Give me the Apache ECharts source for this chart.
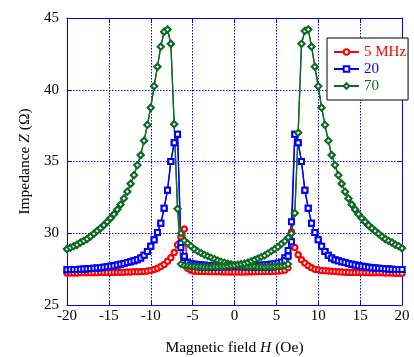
<!DOCTYPE html>
<html>
<head>
<meta charset="utf-8">
<script src="https://cdn.jsdelivr.net/npm/echarts@6/dist/echarts.min.js"></script>
<style>html,body{margin:0;padding:0;background:#fff}#c{width:414px;height:357px}</style>
</head>
<body>
<div id="c"></div>
<script>
// Magnetic field grid (Oe)
const H = [-20,-19.6,-19.2,-18.8,-18.4,-18,-17.6,-17.2,-16.8,-16.4,
  -16,-15.6,-15.2,-14.8,-14.4,-14,-13.6,-13.2,-12.8,-12.4,
  -12,-11.6,-11.2,-10.8,-10.4,-10,-9.6,-9.2,-8.8,-8.4,
  -8,-7.6,-7.2,-6.8,-6.4,-6,-5.6,-5.2,-4.8,-4.4,
  -4,-3.6,-3.2,-2.8,-2.4,-2,-1.6,-1.2,-0.8,-0.4,
  0,0.4,0.8,1.2,1.6,2,2.4,2.8,3.2,3.6,
  4,4.4,4.8,5.2,5.6,6,6.4,6.8,7.2,7.6,
  8,8.4,8.8,9.2,9.6,10,10.4,10.8,11.2,11.6,
  12,12.4,12.8,13.2,13.6,14,14.4,14.8,15.2,15.6,
  16,16.4,16.8,17.2,17.6,18,18.4,18.8,19.2,19.6,20];

// 5 MHz, sweep up / sweep down (Ohm)
const red_up = [27.23,27.23,27.23,27.23,27.24,27.24,27.24,27.25,27.25,27.25,
  27.26,27.26,27.27,27.27,27.28,27.28,27.29,27.29,27.3,27.3,
  27.31,27.31,27.32,27.34,27.37,27.41,27.47,27.56,27.68,27.82,
  28.05,28.3,28.65,29.2,29.75,30.3,27.55,27.4,27.36,27.34,
  27.33,27.32,27.32,27.31,27.31,27.31,27.3,27.3,27.3,27.3,
  27.3,27.3,27.3,27.3,27.3,27.3,27.31,27.31,27.32,27.32,
  27.33,27.35,27.38,27.42,27.5,27.75,28.4,30.1,29.0,28.5,
  28.15,27.92,27.74,27.6,27.5,27.45,27.41,27.39,27.37,27.35,
  27.33,27.31,27.3,27.29,27.28,27.27,27.27,27.26,27.26,27.25,
  27.25,27.25,27.24,27.24,27.24,27.23,27.23,27.23,27.22,27.22,27.22];
const red_down = [27.23,27.23,27.23,27.23,27.24,27.24,27.24,27.25,27.25,27.25,
  27.26,27.26,27.27,27.27,27.28,27.28,27.29,27.29,27.3,27.3,
  27.31,27.31,27.32,27.34,27.37,27.41,27.47,27.56,27.68,27.82,
  28.05,28.3,28.65,29.2,29.75,30.3,27.75,27.45,27.37,27.35,
  27.34,27.33,27.33,27.32,27.32,27.31,27.31,27.31,27.3,27.3,
  27.3,27.3,27.3,27.3,27.31,27.31,27.31,27.32,27.32,27.33,
  27.33,27.34,27.34,27.35,27.37,27.42,27.6,30.1,29.0,28.5,
  28.15,27.92,27.74,27.6,27.5,27.45,27.41,27.39,27.37,27.35,
  27.33,27.31,27.3,27.29,27.28,27.27,27.27,27.26,27.26,27.25,
  27.25,27.25,27.24,27.24,27.24,27.23,27.23,27.23,27.22,27.22,27.22];

// 20 MHz
const blue_up = [27.46,27.47,27.48,27.48,27.5,27.51,27.52,27.54,27.56,27.58,
  27.6,27.63,27.66,27.7,27.74,27.79,27.84,27.9,27.96,28.02,
  28.08,28.15,28.28,28.47,28.72,29.1,29.55,30.05,30.7,31.75,
  33.0,35.0,36.3,36.9,29.3,28.3,28.0,27.9,27.85,27.82,
  27.8,27.78,27.76,27.75,27.74,27.73,27.72,27.71,27.7,27.7,
  27.7,27.68,27.67,27.66,27.65,27.64,27.63,27.62,27.62,27.62,
  27.63,27.65,27.7,27.78,27.95,28.3,28.8,30.8,36.9,36.3,
  35.0,33.0,31.75,30.7,30.05,29.55,29.1,28.72,28.47,28.28,
  28.15,28.08,28.02,27.96,27.9,27.84,27.79,27.74,27.7,27.66,
  27.63,27.6,27.58,27.56,27.54,27.52,27.51,27.5,27.48,27.48,27.47];
const blue_down = [27.46,27.47,27.48,27.48,27.5,27.51,27.52,27.54,27.56,27.58,
  27.6,27.63,27.66,27.7,27.74,27.79,27.84,27.9,27.96,28.02,
  28.08,28.15,28.28,28.47,28.72,29.1,29.55,30.05,30.7,31.75,
  33.0,35.0,36.3,36.9,29.0,28.4,27.95,27.78,27.7,27.66,
  27.64,27.63,27.62,27.62,27.63,27.64,27.65,27.66,27.67,27.68,
  27.7,27.7,27.71,27.72,27.73,27.74,27.75,27.76,27.78,27.8,
  27.82,27.85,27.88,27.92,28.0,28.1,28.4,29.4,36.9,36.3,
  35.0,33.0,31.75,30.7,30.05,29.55,29.1,28.72,28.47,28.28,
  28.15,28.08,28.02,27.96,27.9,27.84,27.79,27.74,27.7,27.66,
  27.63,27.6,27.58,27.56,27.54,27.52,27.51,27.5,27.48,27.48,27.47];

// 70 MHz
const green_up = [28.9,29.0,29.1,29.2,29.35,29.47,29.6,29.77,29.96,30.16,
  30.35,30.56,30.8,31.05,31.33,31.65,32.0,32.43,32.9,33.45,
  34.05,34.75,35.45,36.45,37.55,38.75,40.25,41.6,43.0,44.05,
  44.2,43.2,37.6,31.7,30.0,29.5,29.3,29.1,28.9,28.75,
  28.62,28.5,28.4,28.3,28.2,28.1,28.02,27.95,27.9,27.85,
  27.8,27.75,27.72,27.7,27.68,27.67,27.66,27.65,27.65,27.65,
  27.66,27.67,27.68,27.7,27.72,27.75,27.85,30.0,31.4,37.0,
  43.2,44.1,44.2,43.0,41.6,40.25,38.75,37.55,36.45,35.45,
  34.75,34.05,33.45,32.9,32.43,32.0,31.65,31.33,31.05,30.8,
  30.56,30.35,30.16,29.96,29.77,29.6,29.47,29.35,29.2,29.1,28.95];
const green_down = [28.9,29.0,29.1,29.2,29.35,29.47,29.6,29.77,29.96,30.16,
  30.35,30.56,30.8,31.05,31.33,31.65,32.0,32.43,32.9,33.45,
  34.05,34.75,35.45,36.45,37.55,38.75,40.25,41.6,43.0,44.05,
  44.2,43.2,37.6,31.7,27.85,27.75,27.72,27.7,27.68,27.67,
  27.66,27.65,27.65,27.65,27.66,27.67,27.68,27.7,27.72,27.75,
  27.78,27.82,27.86,27.9,27.97,28.05,28.15,28.25,28.35,28.45,
  28.6,28.75,28.9,29.05,29.25,29.45,29.7,30.0,31.4,37.0,
  43.2,44.1,44.2,43.0,41.6,40.25,38.75,37.55,36.45,35.45,
  34.75,34.05,33.45,32.9,32.43,32.0,31.65,31.33,31.05,30.8,
  30.56,30.35,30.16,29.96,29.77,29.6,29.47,29.35,29.2,29.1,28.95];

const names = ['5 MHz', '20', '70'];
const colors = ['#ff0000', '#0000ff', '#0d6b22'];
const FONT = 'Liberation Serif';
const AXIS = '#0000ff';

function pairs(arr) { return H.map((h, i) => [h, arr[i]]); }

function mk(name, arr, color, symbol, size, lw) {
  return {
    type: 'line', name: name, data: pairs(arr),
    xAxisIndex: 0, yAxisIndex: 0,
    symbol: symbol, symbolSize: size, showSymbol: true,
    lineStyle: { color: color, width: lw },
    itemStyle: { color: color, borderColor: color, borderWidth: 1 },
    emphasis: { disabled: true }
  };
}

const chart = echarts.init(document.getElementById('c'), null, { renderer: 'canvas' });
const gridLine = { show: true, lineStyle: { color: AXIS, width: 1, type: [1.5, 1.5] } };
chart.setOption({
  animation: false,
  backgroundColor: '#fff',
  grid: { left: 67, top: 18, width: 335, height: 287, containLabel: false, outerBoundsMode: 'none' },
  legend: {
    left: 327, top: 38, orient: 'vertical',
    backgroundColor: '#fff', borderColor: '#000', borderWidth: 1,
    padding: [6, 2, 6, 6], itemGap: 1, itemWidth: 25, itemHeight: 7,
    textStyle: { fontFamily: FONT, fontSize: 15, lineHeight: 16 },
    data: names.map((n, i) => ({ name: n, textStyle: { color: colors[i] } }))
  },
  xAxis: [
    { type: 'value', min: -20, max: 20, interval: 5, position: 'bottom',
      axisLine: { show: true, onZero: false, lineStyle: { color: AXIS, width: 1 } },
      axisTick: { show: true, inside: true, length: 5, lineStyle: { color: AXIS } },
      axisLabel: { color: '#000', fontFamily: FONT, fontSize: 15, margin: 4 },
      splitLine: gridLine,
      name: 'Magnetic field {i|H} (Oe)', nameLocation: 'middle', nameGap: 35,
      nameTextStyle: { color: '#000', fontFamily: FONT, fontSize: 15.5,
        rich: { i: { fontStyle: 'italic', fontFamily: FONT, fontSize: 15.5, color: '#000' } } }
    },
    { type: 'value', min: -20, max: 20, interval: 5, position: 'top',
      axisLine: { show: true, onZero: false, lineStyle: { color: AXIS, width: 1 } },
      axisTick: { show: true, inside: true, length: 5, lineStyle: { color: AXIS } },
      axisLabel: { show: false }, splitLine: { show: false } }
  ],
  yAxis: [
    { type: 'value', min: 25, max: 45, interval: 5, position: 'left',
      axisLine: { show: true, onZero: false, lineStyle: { color: AXIS, width: 1 } },
      axisTick: { show: true, inside: true, length: 5, lineStyle: { color: AXIS } },
      axisLabel: { color: '#000', fontFamily: FONT, fontSize: 15, margin: 8 },
      splitLine: gridLine,
      name: 'Impedance {i|Z} (Ω)', nameLocation: 'middle', nameGap: 34, nameRotate: 90,
      nameTextStyle: { color: '#000', fontFamily: FONT, fontSize: 15.5,
        rich: { i: { fontStyle: 'italic', fontFamily: FONT, fontSize: 15.5, color: '#000' } } }
    },
    { type: 'value', min: 25, max: 45, interval: 5, position: 'right',
      axisLine: { show: true, onZero: false, lineStyle: { color: AXIS, width: 1 } },
      axisTick: { show: true, inside: true, length: 5, lineStyle: { color: AXIS } },
      axisLabel: { show: false }, splitLine: { show: false } }
  ],
  series: [
    mk(names[0], red_up, colors[0], 'emptyCircle', 5, 1),
    mk(names[0], red_down, colors[0], 'emptyCircle', 5, 1),
    mk(names[1], blue_up, colors[1], 'emptyRect', 5, 1.3),
    mk(names[1], blue_down, colors[1], 'emptyRect', 5, 1.3),
    mk(names[2], green_up, colors[2], 'emptyDiamond', 6, 1.3),
    mk(names[2], green_down, colors[2], 'emptyDiamond', 6, 1.3)
  ]
});
</script>
</body>
</html>
